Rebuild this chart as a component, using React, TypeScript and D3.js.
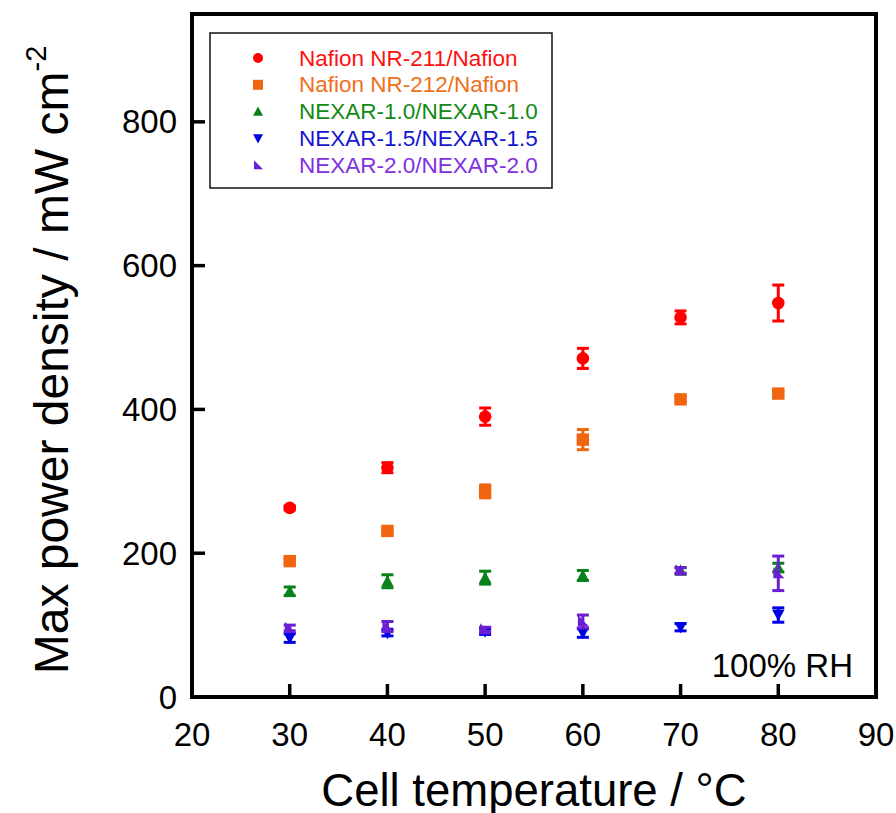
import React from 'react';
import * as d3 from 'd3';

// cell temperature, °C
const temps = [30, 40, 50, 60, 70, 80];

// max power density, mW cm-2 (value and error)
const nr211 = [263, 319, 390, 471, 528, 548];
const nr211Err = [3, 7, 12, 14, 9, 25];
const nr212 = [189, 231, 286, 358, 414, 422];
const nr212Err = [3, 3, 9, 14, 4, 3];
const nexar10 = [147, 161, 166, 169, 176, 180];
const nexar10Err = [6, 9, 9, 7, 4, 6];
const nexar15 = [82, 89, 91, 89, 97, 114];
const nexar15Err = [6, 4, 4, 6, 5, 10];
const nexar20 = [96, 98, 94, 105, 176, 172];
const nexar20Err = [4, 7, 3, 9, 4, 24];

const xTicks = [20, 30, 40, 50, 60, 70, 80, 90];
const yTicks = [0, 200, 400, 600, 800];

const series = [
  { name: 'Nafion NR-211/Nafion', values: nr211, err: nr211Err, shape: 'circle', color: '#ff0000', text: '#ff1010' },
  { name: 'Nafion NR-212/Nafion', values: nr212, err: nr212Err, shape: 'square', color: '#f0650f', text: '#f07020' },
  { name: 'NEXAR-1.0/NEXAR-1.0', values: nexar10, err: nexar10Err, shape: 'up', color: '#0a801a', text: '#138a13' },
  { name: 'NEXAR-1.5/NEXAR-1.5', values: nexar15, err: nexar15Err, shape: 'down', color: '#0000e6', text: '#1515d0' },
  { name: 'NEXAR-2.0/NEXAR-2.0', values: nexar20, err: nexar20Err, shape: 'corner', color: '#6a1fd2', text: '#8030e0' },
];

const left = 192, right = 876, top = 14, bottom = 697;
const x = d3.scaleLinear().domain([20, 90]).range([left, right]);
const y = d3.scaleLinear().domain([0, 950]).range([bottom, top]);

function marker(shape: string, s: number) {
  const p = d3.path();
  if (shape === 'circle') {
    p.arc(0, 0, s, 0, Math.PI * 2);
  } else if (shape === 'square') {
    p.rect(-s, -s, 2 * s, 2 * s);
  } else if (shape === 'up') {
    p.moveTo(0, -s); p.lineTo(s, s * 0.85); p.lineTo(-s, s * 0.85);
  } else if (shape === 'down') {
    p.moveTo(0, s); p.lineTo(s, -s * 0.85); p.lineTo(-s, -s * 0.85);
  } else {
    p.moveTo(-s * 0.8, -s); p.lineTo(-s * 0.8, s * 0.8); p.lineTo(s, s * 0.8);
  }
  p.closePath();
  return p.toString();
}

export default function App() {
  const font = 'Liberation Sans, Arial, sans-serif';
  return (
    <svg width={896} height={813} style={{ position: 'absolute', left: 0, top: 0, background: '#fff' }} fontFamily={font}>
      {/* data */}
      {series.map((s) => (
        <g key={s.name} fill={s.color} stroke={s.color}>
          {temps.map((t, i) => {
            const cx = x(t), v = s.values[i], e = s.err[i];
            return (
              <g key={t}>
                <line x1={cx} x2={cx} y1={y(v - e)} y2={y(v + e)} strokeWidth={3} />
                <line x1={cx - 6} x2={cx + 6} y1={y(v - e)} y2={y(v - e)} strokeWidth={3} />
                <line x1={cx - 6} x2={cx + 6} y1={y(v + e)} y2={y(v + e)} strokeWidth={3} />
                <path d={marker(s.shape, s.shape === 'circle' ? 6.3 : 6.2)} transform={`translate(${cx},${y(v)})`} stroke="none" />
              </g>
            );
          })}
        </g>
      ))}

      {/* frame and ticks */}
      <rect x={left} y={top} width={right - left} height={bottom - top} fill="none" stroke="#000" strokeWidth={4} />
      {xTicks.slice(1, -1).map((t) => (
        <line key={t} x1={x(t)} x2={x(t)} y1={bottom} y2={bottom - 13} stroke="#000" strokeWidth={3.5} />
      ))}
      {yTicks.slice(1).map((t) => (
        <line key={t} x1={left} x2={left + 13} y1={y(t)} y2={y(t)} stroke="#000" strokeWidth={3.5} />
      ))}
      {xTicks.map((t) => (
        <text key={t} x={x(t)} y={746} fontSize={33} textAnchor="middle">{t}</text>
      ))}
      {yTicks.map((t) => (
        <text key={t} x={177} y={y(t)} fontSize={33} textAnchor="end" dominantBaseline="central">{t}</text>
      ))}

      {/* axis titles */}
      <text x={534} y={806} fontSize={45.5} textAnchor="middle">Cell temperature / °C</text>
      <text transform="translate(68,360) rotate(-90)" fontSize={48} textAnchor="middle">
        Max power density / mW cm<tspan fontSize={29} dy={-22}>-2</tspan>
      </text>

      <text x={853} y={677} fontSize={33} textAnchor="end">100% RH</text>

      {/* legend */}
      <rect x={210} y={33} width={342} height={155} fill="#fff" stroke="#111" strokeWidth={1.5} />
      {series.map((s, i) => {
        const ly = 58 + i * 26.8;
        return (
          <g key={s.name}>
            <path d={marker(s.shape, 5)} transform={`translate(258,${ly})`} fill={s.color} />
            <text x={299} y={ly} fontSize={22.5} fill={s.text} dominantBaseline="central">{s.name}</text>
          </g>
        );
      })}
    </svg>
  );
}
